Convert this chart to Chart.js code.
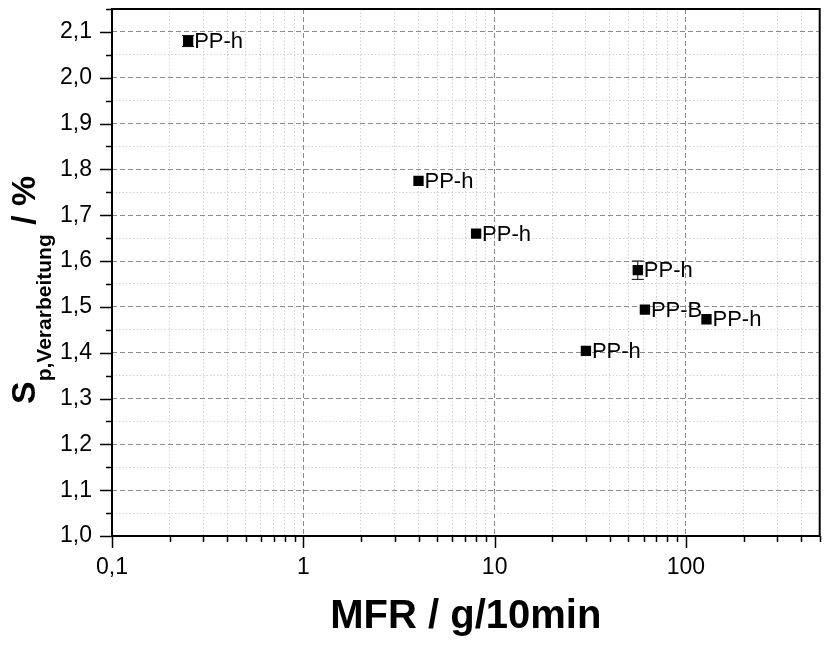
<!DOCTYPE html>
<html>
<head>
<meta charset="utf-8">
<script src="https://cdn.jsdelivr.net/npm/chart.js@4.4.1/dist/chart.umd.min.js"></script>
<style>
  html, body { margin: 0; padding: 0; background: #fff; overflow: hidden; }
  #wrap { width: 827px; height: 646px; position: relative; }
</style>
</head>
<body>
<div id="wrap"><canvas id="c"></canvas></div>
<script>
// values
var names = ['PP-h', 'PP-h', 'PP-h', 'PP-h', 'PP-B', 'PP-h', 'PP-h'];
var mfr = [0.25, 4, 8, 56, 61, 128, 30];
var sp = [2.08, 1.775, 1.66, 1.58, 1.494, 1.473, 1.404];
var spErr = [0.012, 0, 0, 0.02, 0, 0, 0];

var xMajor = [0.1, 1, 10, 100];
var xMax = 500;
var yMajor = [1.0, 1.1, 1.2, 1.3, 1.4, 1.5, 1.6, 1.7, 1.8, 1.9, 2.0, 2.1];
var yMax = 2.15;

var FONT = "'Liberation Sans', Arial, sans-serif";

// tick lists (major + minor)
var xTicks = [];
xMajor.forEach(function(d) {
  for (var k = 1; k <= 9; k++) {
    var v = d * k;
    if (v <= xMax + 1e-9) xTicks.push({ value: v, major: k === 1 });
  }
});
var yTicks = [];
yMajor.forEach(function(v) {
  yTicks.push({ value: v, major: true });
  if (v + 0.05 <= yMax + 1e-9) yTicks.push({ value: v + 0.05, major: false });
});

function comma(v, digits) {
  return (digits == null ? String(v) : v.toFixed(digits)).replace('.', ',');
}

var extras = {
  id: 'extras',
  afterDatasetsDraw: function(chart) {
    var ctx = chart.ctx, a = chart.chartArea;
    var xs = chart.scales.x, ys = chart.scales.y;
    ctx.save();
    ctx.strokeStyle = '#000';
    ctx.fillStyle = '#000';

    // error bars
    ctx.lineWidth = 1;
    var meta = chart.getDatasetMeta(0);
    meta.data.forEach(function(pt, i) {
      if (!spErr[i]) return;
      var yt = ys.getPixelForValue(sp[i] + spErr[i]);
      var yb = ys.getPixelForValue(sp[i] - spErr[i]);
      ctx.beginPath();
      ctx.moveTo(pt.x, yt); ctx.lineTo(pt.x, yb);
      ctx.moveTo(pt.x - 6, yt); ctx.lineTo(pt.x + 6, yt);
      ctx.moveTo(pt.x - 6, yb); ctx.lineTo(pt.x + 6, yb);
      ctx.stroke();
    });

    // point labels
    ctx.font = '22px ' + FONT;
    ctx.textBaseline = 'middle';
    ctx.textAlign = 'left';
    meta.data.forEach(function(pt, i) {
      ctx.fillText(names[i], pt.x + 6, pt.y + 1);
    });

    // frame
    ctx.lineWidth = 2;
    ctx.strokeRect(a.left, a.top, a.right - a.left, a.bottom - a.top);

    // tick marks
    ctx.lineWidth = 1.5;
    ctx.beginPath();
    xs.ticks.forEach(function(t) {
      var px = Math.round(xs.getPixelForValue(t.value)) + 0.5;
      ctx.moveTo(px, a.bottom);
      ctx.lineTo(px, a.bottom + (t.major ? 12 : 6));
    });
    ys.ticks.forEach(function(t) {
      var py = Math.round(ys.getPixelForValue(t.value)) + 0.5;
      ctx.moveTo(a.left, py);
      ctx.lineTo(a.left - (t.major ? 12 : 6), py);
    });
    ctx.stroke();

    // x title
    ctx.font = 'bold 40px ' + FONT;
    ctx.textAlign = 'center';
    ctx.textBaseline = 'alphabetic';
    ctx.fillText('MFR / g/10min', (a.left + a.right) / 2, 628);

    // y title with subscript, read bottom to top
    var big = 'bold 34px ' + FONT, small = 'bold 21px ' + FONT;
    var p1 = 'S', p2 = 'p,Verarbeitung', p3 = ' / %';
    ctx.font = big; var w1 = ctx.measureText(p1).width;
    ctx.font = small; var w2 = ctx.measureText(p2).width;
    ctx.translate(35, 404);
    ctx.rotate(-Math.PI / 2);
    ctx.textAlign = 'left';
    ctx.font = big; ctx.fillText(p1, 0, 0);
    ctx.font = small; ctx.fillText(p2, w1, 16);
    ctx.font = big; ctx.fillText(p3, w1 + w2, 0);
    ctx.restore();
  }
};

var gridColor = function(c) { return c.tick && c.tick.major ? '#8c8c8c' : '#d2d2d2'; };
var gridDash = function(c) { return c.tick && c.tick.major ? [5, 3] : [1.5, 2]; };

new Chart(document.getElementById('c'), {
  type: 'scatter',
  data: {
    datasets: [{
      data: mfr.map(function(v, i) { return { x: v, y: sp[i] }; }),
      backgroundColor: '#000',
      borderColor: '#000',
      pointStyle: 'rect',
      pointRadius: 7.3,
      pointHoverRadius: 7.3,
      borderWidth: 0
    }]
  },
  options: {
    responsive: true,
    maintainAspectRatio: false,
    animation: false,
    events: [],
    layout: { padding: { left: 0, top: 9, right: 5, bottom: 0 } },
    plugins: { legend: { display: false }, tooltip: { enabled: false } },
    scales: {
      x: {
        type: 'logarithmic',
        min: 0.1,
        max: xMax,
        afterBuildTicks: function(s) { s.ticks = xTicks.map(function(t) { return { value: t.value, major: t.major }; }); },
        afterFit: function(s) { s.height = 110; s.paddingLeft = 0; s.paddingRight = 0; },
        grid: { color: gridColor, lineWidth: 1, drawTicks: false },
        border: { display: false, dash: gridDash },
        ticks: {
          autoSkip: false,
          maxRotation: 0,
          padding: 18,
          color: '#000',
          font: { family: FONT, size: 23 },
          callback: function(v, i) {
            return xTicks[i] && xTicks[i].major ? comma(v) : '';
          }
        }
      },
      y: {
        min: 1.0,
        max: yMax,
        afterBuildTicks: function(s) { s.ticks = yTicks.map(function(t) { return { value: t.value, major: t.major }; }); },
        afterFit: function(s) { s.width = 112; s.paddingTop = 0; s.paddingBottom = 0; },
        grid: { color: gridColor, lineWidth: 1, drawTicks: false },
        border: { display: false, dash: gridDash },
        ticks: {
          autoSkip: false,
          padding: 20,
          color: '#000',
          font: { family: FONT, size: 23 },
          callback: function(v, i) {
            return yTicks[i] && yTicks[i].major ? comma(v, 1) : '';
          }
        }
      }
    }
  },
  plugins: [extras]
});
</script>
</body>
</html>
